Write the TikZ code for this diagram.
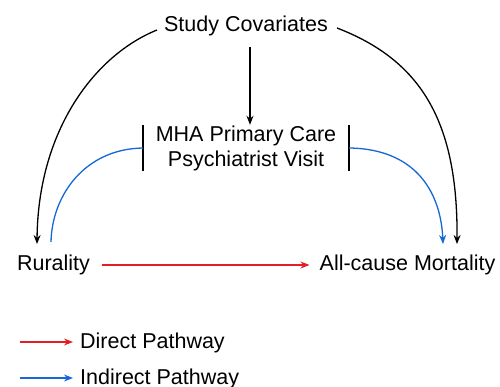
\documentclass[tikz,border=0pt]{standalone}
\usepackage{fontspec}
\setmainfont{Liberation Sans}
\usetikzlibrary{arrows.meta}
\definecolor{directred}{RGB}{226,30,40}
\definecolor{indirectblue}{RGB}{22,104,216}
\begin{document}
\begin{tikzpicture}[x=1pt,y=-1pt,
  lbl/.style={inner sep=0pt,font=\fontsize{21.5}{25}\selectfont,align=center},
  conn/.style={line width=1.3pt,-{Stealth[length=9pt,width=7pt]}},
  bar/.style={line width=1.5pt}]
\useasboundingbox (0,0) rectangle (500,387);
\fill[white] (0,0) rectangle (500,387);
% nodes
\node[lbl] (cov) at (246,26) {Study Covariates};
\node[lbl,minimum width=206pt,minimum height=46pt] (mha) at (246,148) {MHA Primary Care\\Psychiatrist Visit};
\node[lbl] (rur) at (53.5,265) {Rurality};
\node[lbl] (mort) at (407.5,265) {All-cause Mortality};
% bars around the mediator
\draw[bar] (mha.north west) -- (mha.south west);
\draw[bar] (mha.north east) -- (mha.south east);
% covariate paths
\coordinate (covL) at (157,30);
\coordinate (covR) at (337,28);
\coordinate (covD) at (250,47);
\coordinate (rurTop) at (37,244);
\coordinate (mortTop) at (457,244);
\draw[conn] (covD) -- (mha.north -| covD);
\draw[conn] (covL) .. controls (95,55) and (38,130) .. (rurTop);
\draw[conn] (covR) .. controls (420,60) and (458,120) .. (mortTop);
% indirect pathway
\coordinate (rurBlue) at (51,242);
\coordinate (mortBlue) at (443,244);
\draw[line width=1.3pt,indirectblue] (mha.west) .. controls (85,149) and (52,195) .. (rurBlue);
\draw[conn,indirectblue] (mha.east) .. controls (418,149) and (441,195) .. (mortBlue);
% direct pathway
\draw[conn,directred] (rur.east) ++(12,0) -- ([xshift=-10pt]mort.west);
% legend
\coordinate (l1a) at (20,342);
\coordinate (l1b) at (73,342);
\coordinate (l2a) at (20,378);
\coordinate (l2b) at (73,378);
\draw[conn,directred] (l1a) -- (l1b);
\draw[conn,indirectblue] (l2a) -- (l2b);
\node[lbl,anchor=west] (ld) at (80,343) {Direct Pathway};
\node[lbl,anchor=west] (li) at (80,379) {Indirect Pathway};
\end{tikzpicture}
\end{document}
